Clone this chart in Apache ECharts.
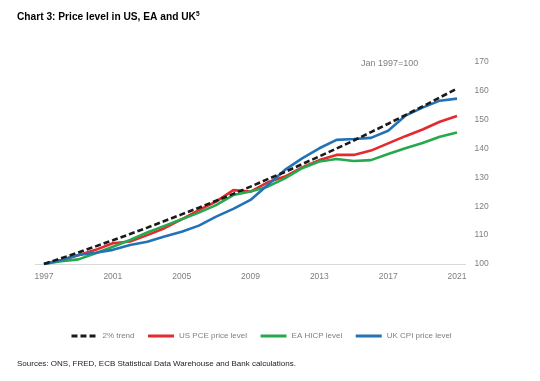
<!DOCTYPE html>
<html><head><meta charset="utf-8">
<script src="https://cdn.jsdelivr.net/npm/echarts@6/dist/echarts.min.js"></script>
<style>html,body{margin:0;padding:0;background:#fff}#c{width:540px;height:381px}</style>
</head><body><div id="c"></div>
<script>
var years = ['1997','1998','1999','2000','2001','2002','2003','2004','2005','2006','2007','2008','2009','2010','2011','2012','2013','2014','2015','2016','2017','2018','2019','2020','2021'];
var trend = [100,102,104.0,106.1,108.2,110.4,112.6,114.9,117.2,119.5,121.9,124.3,126.8,129.4,131.9,134.6,137.3,140.0,142.8,145.7,148.6,151.6,154.6,157.7,160.8];
var usPce = [100,101.4,103.0,104.9,107.2,107.8,110.0,112.4,115.5,118.7,121.6,125.6,125.1,128.3,130.3,133.5,136.0,137.8,137.8,139.3,141.8,144.3,146.6,149.3,151.3];
var eaHicp = [100,101.0,101.6,103.7,106.0,108.3,110.9,113.2,115.5,117.8,120.4,123.9,125.1,126.8,129.7,133.2,135.5,136.4,135.7,136.0,138.1,140.1,141.9,144.1,145.6];
var ukCpi = [100,101.4,103.1,103.9,104.9,106.6,107.7,109.5,111.2,113.3,116.4,119.1,122.2,127.4,132.6,136.6,140.1,143.0,143.3,143.7,146.2,151.4,154.2,156.6,157.3];
var yTicks = [100,110,120,130,140,150,160,170];
var names = ['2% trend','US PCE price level','EA HICP level','UK CPI price level'];

var chart = echarts.init(document.getElementById('c'));
var font = 'Liberation Sans, Arial, sans-serif';
function line(name, data, color, dashed){
  return {name:name, type:'line', data:data, symbol:'none', smooth:false,
    lineStyle:{color:color, width:2.6, type: dashed ? [6,3] : 'solid'},
    itemStyle:{color:color}, z: dashed ? 5 : 3};
}
chart.setOption({
  animation:false,
  backgroundColor:'#fff',
  title:[{
    text:'Chart 3: Price level in US, EA and UK{sup|5}', left:12, top:6,
    textStyle:{fontFamily:font, fontSize:10.2, fontWeight:'bold', color:'#000',
      rich:{sup:{fontSize:6.5, fontFamily:font, color:'#000', verticalAlign:'top', padding:[0,0,6,0]}}}
  },{
    text:'Jan 1997=100', left:356, top:54,
    textStyle:{fontFamily:font, fontSize:9, fontWeight:'normal', color:'#7f7f7f'}
  },{
    text:'Sources: ONS, FRED, ECB Statistical Data Warehouse and Bank calculations.', left:12, top:355,
    textStyle:{fontFamily:font, fontSize:8, fontWeight:'normal', color:'#222'}
  }],
  legend:{
    data:names, left:65, top:327, itemWidth:26, itemHeight:10, itemGap:12,
    itemStyle:{opacity:0},
    lineStyle:{width:3},
    textStyle:{fontFamily:font, fontSize:8, color:'#7f7f7f'}
  },
  grid:{left:35.4, right:74.4, top:62, bottom:117},
  xAxis:{
    type:'category', data:years, boundaryGap:true,
    axisLine:{lineStyle:{color:'#d9d9d9', width:1}},
    axisTick:{show:false},
    axisLabel:{interval:3, color:'#7f7f7f', fontFamily:font, fontSize:8.5, margin:8}
  },
  yAxis:{
    type:'value', position:'right', min:100, max:170, interval:10,
    splitLine:{show:false}, axisLine:{show:false}, axisTick:{show:false},
    axisLabel:{color:'#7f7f7f', fontFamily:font, fontSize:8.5, margin:9}
  },
  series:[
    line(names[0], trend, '#1a1a1a', true),
    line(names[1], usPce, '#e32b2f', false),
    line(names[2], eaHicp, '#26a84e', false),
    line(names[3], ukCpi, '#2472b6', false)
  ]
});
</script></body></html>
